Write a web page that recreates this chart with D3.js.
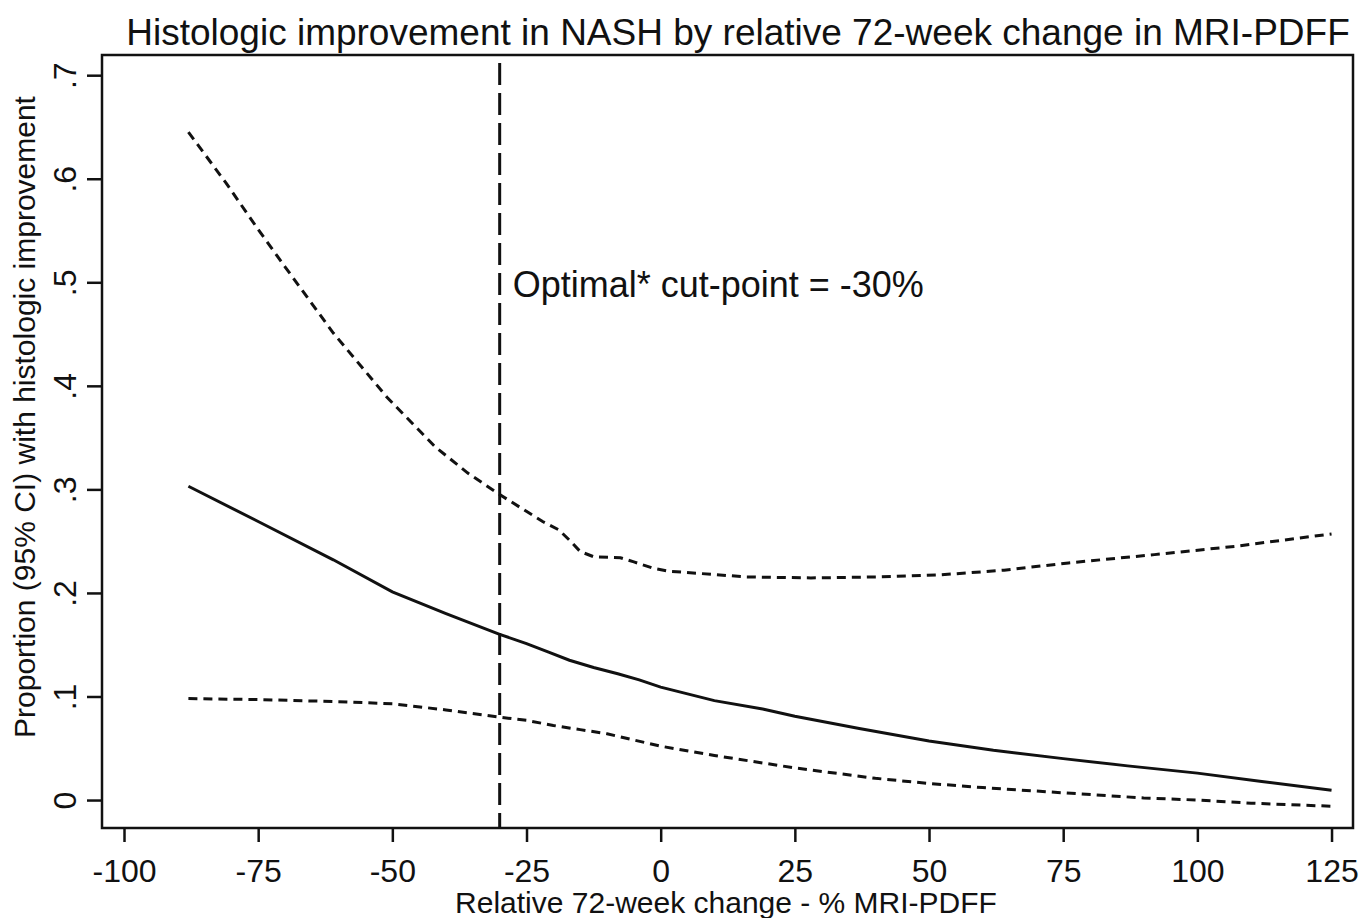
<!DOCTYPE html>
<html>
<head>
<meta charset="utf-8">
<script src="https://cdn.jsdelivr.net/npm/d3@7"></script>
<style>
  body { margin: 0; background: #fff; }
  text { font-family: "Liberation Sans", Arial, sans-serif; fill: #111; }
</style>
</head>
<body>
<div id="chart"></div>
<script>
// x positions (relative 72-week change, %) and fitted values
var estX = [-88, -75, -61, -50, -40, -30, -25, -21, -17, -12.5, -8, -4, 0, 10, 19, 25, 37, 50, 62, 75, 87, 100, 112, 125];
var estY = [0.303, 0.269, 0.232, 0.201, 0.180, 0.160, 0.151, 0.143, 0.135, 0.128, 0.122, 0.116, 0.109, 0.096, 0.088, 0.081, 0.069, 0.057, 0.048, 0.040, 0.033, 0.026, 0.018, 0.0095];

var upperX = [-88, -81, -75, -70, -61, -51, -42, -36, -30, -22, -19, -17, -15, -12.5, -7.5, -5, -1.5, 1.5, 16, 28, 41, 52, 64, 76, 92, 107, 125];
var upperY = [0.645, 0.596, 0.551, 0.515, 0.451, 0.389, 0.341, 0.316, 0.295, 0.269, 0.261, 0.251, 0.240, 0.235, 0.234, 0.230, 0.224, 0.221, 0.2155, 0.2145, 0.2155, 0.2174, 0.222, 0.229, 0.237, 0.245, 0.257];

var lowerX = [-88, -75, -60, -50, -40, -30, -25, -20, -15, -10, 0, 10, 25, 40, 50, 60, 75, 90, 100, 110, 125];
var lowerY = [0.098, 0.097, 0.095, 0.093, 0.087, 0.080, 0.077, 0.072, 0.068, 0.064, 0.052, 0.043, 0.031, 0.021, 0.016, 0.012, 0.007, 0.002, 0.000, -0.003, -0.006];

var xTicks = [-100, -75, -50, -25, 0, 25, 50, 75, 100, 125];
var yTicks = [0, 0.1, 0.2, 0.3, 0.4, 0.5, 0.6, 0.7];
var cutPoint = -30;

var svgWidth = 1359;
var svgHeight = 918;

// plot region (the framed box)
var plot = { left: 102, top: 55, right: 1353, bottom: 828 };

var svg = d3.select("#chart")
  .append("svg")
  .attr("width", svgWidth)
  .attr("height", svgHeight);

var xScale = d3.scaleLinear()
  .domain([-104.1, 129.0])
  .range([plot.left, plot.right]);

var yScale = d3.scaleLinear()
  .domain([-0.027, 0.7195])
  .range([plot.bottom, plot.top]);

// x axis (plain hyphen for negatives, as in the original)
var bottomAxis = d3.axisBottom(xScale)
  .tickValues(xTicks)
  .tickSize(14)
  .tickFormat(d => String(d));

var xAxisG = svg.append("g")
  .attr("transform", `translate(0, ${plot.bottom})`)
  .call(bottomAxis);
xAxisG.select(".domain").remove();
xAxisG.selectAll("line").attr("stroke", "#111").attr("stroke-width", 2.5);
xAxisG.selectAll("text")
  .attr("y", 54)
  .attr("dy", 0)
  .attr("font-size", "32px")
  .attr("font-family", null);

// y axis, labels turned like Stata does
var fmtY = function(d) { return d === 0 ? "0" : d3.format(".1f")(d).replace("0.", "."); };
var leftAxis = d3.axisLeft(yScale)
  .tickValues(yTicks)
  .tickSize(15)
  .tickFormat(fmtY);

var yAxisG = svg.append("g")
  .attr("transform", `translate(${plot.left}, 0)`)
  .call(leftAxis);
yAxisG.select(".domain").remove();
yAxisG.selectAll("line").attr("stroke", "#111").attr("stroke-width", 2.5);
yAxisG.selectAll("text")
  .attr("transform", "rotate(-90)")
  .attr("x", 0)
  .attr("y", -26)
  .attr("dy", 0)
  .attr("text-anchor", "middle")
  .attr("font-size", "32px")
  .attr("font-family", null);

// frame
svg.append("rect")
  .attr("x", plot.left)
  .attr("y", plot.top)
  .attr("width", plot.right - plot.left)
  .attr("height", plot.bottom - plot.top)
  .attr("fill", "none")
  .attr("stroke", "#111")
  .attr("stroke-width", 2.5);

// cut-point line
svg.append("line")
  .attr("x1", xScale(cutPoint))
  .attr("x2", xScale(cutPoint))
  .attr("y1", plot.top)
  .attr("y2", plot.bottom)
  .attr("stroke", "#111")
  .attr("stroke-width", 3)
  .attr("stroke-dasharray", "22,8")
  .attr("stroke-dashoffset", 22);

var line = d3.line()
  .x(d => xScale(d[0]))
  .y(d => yScale(d[1]));

function drawSeries(xs, ys, dash) {
  svg.append("path")
    .datum(d3.zip(xs, ys))
    .attr("d", line)
    .attr("fill", "none")
    .attr("stroke", "#111")
    .attr("stroke-width", 3)
    .attr("stroke-dasharray", dash);
}

drawSeries(upperX, upperY, "9,6");
drawSeries(lowerX, lowerY, "9,6");
drawSeries(estX, estY, null);

// annotation
svg.append("text")
  .attr("x", xScale(cutPoint) + 13)
  .attr("y", 297)
  .attr("font-size", "36px")
  .text("Optimal* cut-point = -30%");

// title
svg.append("text")
  .attr("x", 738)
  .attr("y", 45)
  .attr("text-anchor", "middle")
  .attr("font-size", "37px")
  .text("Histologic improvement in NASH by relative 72-week change in MRI-PDFF");

// axis titles
svg.append("text")
  .attr("x", 726)
  .attr("y", 913)
  .attr("text-anchor", "middle")
  .attr("font-size", "30px")
  .text("Relative 72-week change - % MRI-PDFF");

svg.append("text")
  .attr("transform", "translate(35, 417) rotate(-90)")
  .attr("text-anchor", "middle")
  .attr("font-size", "30px")
  .text("Proportion (95% CI) with histologic improvement");
</script>
</body>
</html>
